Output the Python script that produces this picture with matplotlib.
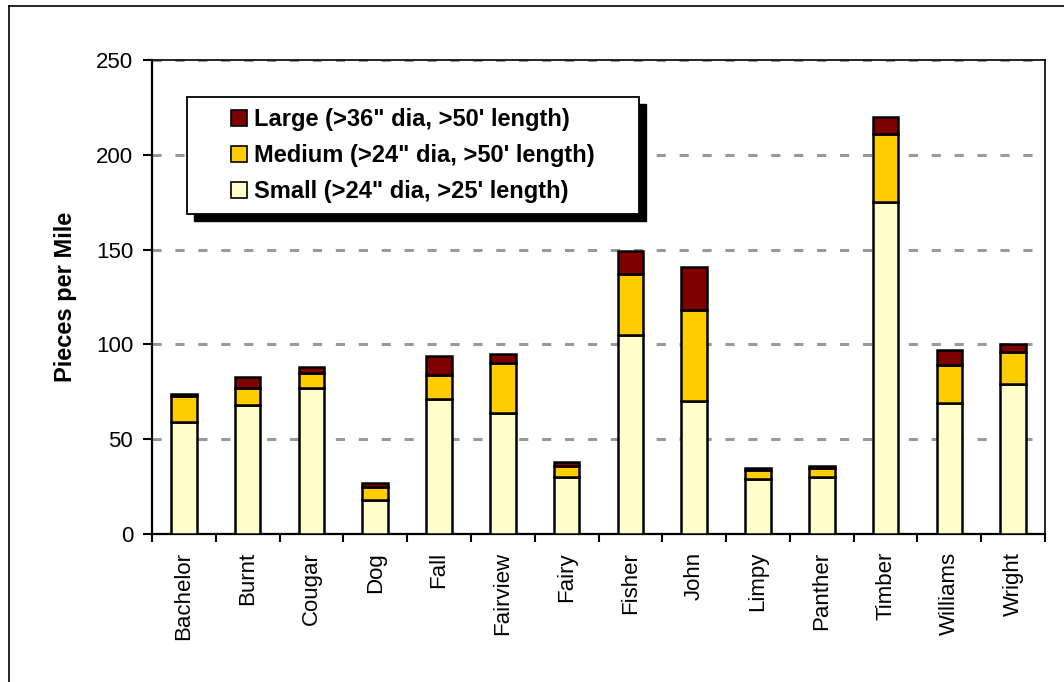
import matplotlib.pyplot as plt
import numpy as np
from matplotlib.patches import Rectangle, Patch
from matplotlib.lines import Line2D

plt.rcParams['font.family'] = ['Liberation Sans', 'DejaVu Sans']

streams = ['Bachelor', 'Burnt', 'Cougar', 'Dog', 'Fall', 'Fairview', 'Fairy',
           'Fisher', 'John', 'Limpy', 'Panther', 'Timber', 'Williams', 'Wright']
small = [59, 68, 77, 18, 71, 64, 30, 105, 70, 29, 30, 175, 69, 79]
medium = [14, 9, 8, 7, 13, 26, 6, 32, 48, 5, 5, 36, 20, 17]
large = [1, 6, 3, 2, 10, 5, 2, 12, 23, 1, 1, 9, 8, 4]

labels = ['Large (>36" dia, >50\' length)',
          'Medium (>24" dia, >50\' length)',
          'Small (>24" dia, >25\' length)']
colors = ['#800000', '#FFCC00', '#FFFFCC']

fig = plt.figure(figsize=(10.64, 6.82), dpi=100)
ax = fig.add_axes([152 / 1064, 148 / 682, 893 / 1064, 474 / 682])

x = np.arange(len(streams))
small = np.array(small)
medium = np.array(medium)
large = np.array(large)
kw = dict(width=0.4, edgecolor='black', linewidth=1.8, zorder=3)
ax.bar(x, small, color=colors[2], **kw)
ax.bar(x, medium, bottom=small, color=colors[1], **kw)
ax.bar(x, large, bottom=small + medium, color=colors[0], **kw)

ax.set_xlim(-0.5, len(streams) - 0.5)
ax.set_ylim(0, 250)
ax.set_yticks([0, 50, 100, 150, 200, 250])
ax.yaxis.grid(True, color='#999999', linestyle=(0, (3, 4.5)), linewidth=2.2)
ax.set_axisbelow(True)

ax.set_xticks(x)
ax.set_xticklabels(streams, rotation=90, fontsize=16)
ax.set_xticks(np.arange(-0.5, len(streams)), minor=True)
ax.tick_params(axis='x', which='major', length=0, pad=13)
ax.tick_params(axis='x', which='minor', direction='out', length=6, width=1.5)
ax.tick_params(axis='y', direction='out', length=6.5, width=1.5, labelsize=16, pad=7)

for side in ['left', 'bottom']:
    ax.spines[side].set_linewidth(1.6)
for side in ['top', 'right']:
    ax.spines[side].set_linewidth(1.2)

ax.set_ylabel('Pieces per Mile', fontsize=17, fontweight='bold', labelpad=14)

# legend box with a solid drop shadow
bx0, bx1 = 35 / 893, 487 / 893
by0, by1 = 320 / 474, 437 / 474
ax.add_patch(Rectangle((bx0 + 7 / 893, by0 - 7 / 474), bx1 - bx0, by1 - by0,
                       transform=ax.transAxes, facecolor='black',
                       edgecolor='black', zorder=6))
ax.add_patch(Rectangle((bx0, by0), bx1 - bx0, by1 - by0,
                       transform=ax.transAxes, facecolor='white',
                       edgecolor='black', linewidth=1.3, zorder=7))
handles = [Patch(facecolor=c, edgecolor='black', linewidth=1.2) for c in colors]
leg = ax.legend(handles, labels, loc='center',
                bbox_to_anchor=((bx0 + bx1) / 2, (by0 + by1) / 2),
                frameon=False, prop={'size': 17, 'weight': 'bold'},
                handlelength=0.68, handleheight=0.68, handletextpad=0.3,
                labelspacing=0.55, borderpad=0)
leg.set_zorder(8)

# outer chart border
fig.add_artist(Line2D([8.5 / 1064, 8.5 / 1064], [0, 1 - 5.5 / 682],
                      color='black', linewidth=1.2))
fig.add_artist(Line2D([8.5 / 1064, 1], [1 - 5.5 / 682, 1 - 5.5 / 682],
                      color='black', linewidth=1.2))

fig.savefig('out.png', dpi=100)
